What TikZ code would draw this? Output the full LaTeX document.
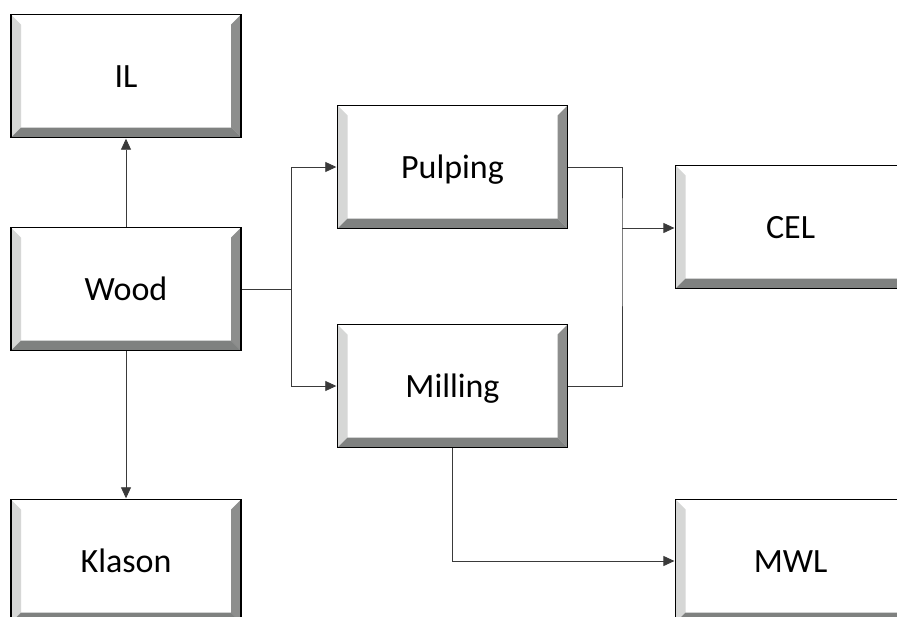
\documentclass[tikz,border=0pt]{standalone}
\usepackage{fontspec}
\setmainfont{Carlito}
\usepackage{xcolor}
\usepackage{tikz}
\usetikzlibrary{positioning,calc,arrows.meta}

\definecolor{bevlight}{HTML}{D6D7D6}
\definecolor{bevdark}{HTML}{7F8180}
\definecolor{bevright}{HTML}{8D8E8D}
\definecolor{wire}{HTML}{3A3A3A}

\tikzset{
  bevelbox/.style={rectangle, minimum width=230pt, minimum height=123pt, inner sep=0pt,
    text height=24pt, text depth=2pt,
    fill=white, draw=black, line width=1.2pt, font=\fontsize{34}{40}\selectfont,
    path picture={
      \coordinate (bsw) at (path picture bounding box.south west);
      \coordinate (bse) at (path picture bounding box.south east);
      \coordinate (bnw) at (path picture bounding box.north west);
      \coordinate (bne) at (path picture bounding box.north east);
      % left bevel
      \fill[bevlight] (bnw) -- (bsw) -- ($(bsw)+(10pt,10pt)$) -- ($(bnw)+(10pt,-10pt)$) -- cycle;
      % right bevel
      \fill[bevright] (bne) -- (bse) -- ($(bse)+(-10pt,10pt)$) -- ($(bne)+(-10pt,-10pt)$) -- cycle;
      % bottom bevel
      \fill[bevdark] (bsw) -- (bse) -- ($(bse)+(-10pt,10pt)$) -- ($(bsw)+(10pt,10pt)$) -- cycle;
    }},
  % right column runs past the page edge
  widebox/.style={bevelbox, text width=260pt, align=left, anchor=west},
  line/.style={draw=wire, line width=0.8pt},
  link/.style={line, -{Triangle[length=11pt,width=10pt]}, shorten >=0.6pt}
}

\begin{document}
\begin{tikzpicture}[x=1pt, y=-1pt]
    \clip (0,0) rectangle (897,616);
    \fill[white] (0,0) rectangle (897,616);
    \node [bevelbox] (il) at (126,76) {IL};
    \node [bevelbox] (wood) at (126,289) {Wood};
    \node [bevelbox] (klason) at (126,561) {Klason};
    \node [bevelbox] (pulping) at (452.5,167) {Pulping};
    \node [bevelbox] (milling) at (452.5,386) {Milling};
    \node [widebox] (cel) at (675,227) {\makebox[230pt]{CEL}};
    \node [widebox] (mwl) at (675,561) {\makebox[230pt]{MWL}};
    \coordinate (split) at (291,289);
    \coordinate (merge) at (622,228);
    \draw [link] (wood) -- (il);
    \draw [link] (wood) -- (klason);
    \draw [line] (wood.east) -- (split);
    \draw [link] (split) |- (pulping.west);
    \draw [link] (split) |- (milling.west);
    \draw [line] (pulping.east) -| (merge) |- (milling.east);
    \draw [link] (merge) -- (merge -| cel.west);
    \draw [link] (milling.south) |- (mwl.west);
\end{tikzpicture}
\end{document}
